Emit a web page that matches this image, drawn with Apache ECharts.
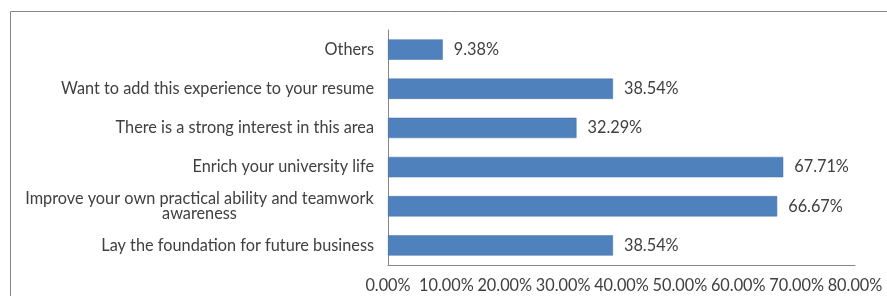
<!DOCTYPE html>
<html>
<head>
<meta charset="utf-8">
<script src="https://cdn.jsdelivr.net/npm/echarts@6/dist/echarts.min.js"></script>
<style>
  html, body { margin: 0; padding: 0; background: #fff; }
  #chart { width: 887px; height: 296px; }
</style>
</head>
<body>
<div id="chart"></div>
<script>
// categories bottom -> top, as on a category y axis
var categories = [
    'Lay the foundation for future business',
    'Improve your own practical ability and teamwork awareness',
    'Enrich your university life',
    'There is a strong interest in this area',
    'Want to add this experience to your resume',
    'Others'
];
var shares = [38.54, 66.67, 67.71, 32.29, 38.54, 9.38];
var xTicks = [0, 10, 20, 30, 40, 50, 60, 70, 80];

var myChart = echarts.init(document.getElementById('chart'));
var font = 'Lato';
var fs = 16.3;

var option = {
    animation: false,
    backgroundColor: '#fff',
    textStyle: { fontFamily: font },
    graphic: [{
        type: 'rect',
        shape: { x: 10.5, y: 11.5, width: 900, height: 400 },
        style: { fill: 'none', stroke: '#868686', lineWidth: 1 },
        silent: true
    }],
    grid: { left: 388, right: 32, top: 30, bottom: 31 },
    xAxis: {
        type: 'value',
        min: xTicks[0],
        max: xTicks[xTicks.length - 1],
        interval: 10,
        splitLine: { show: false },
        axisLine: { show: true, lineStyle: { color: '#868686' } },
        axisTick: { show: false },
        axisLabel: {
            color: '#404040', fontSize: fs, margin: 13,
            formatter: function (v) { return v.toFixed(2) + '%'; }
        }
    },
    yAxis: {
        type: 'category',
        data: categories,
        axisLine: { show: true, lineStyle: { color: '#868686' } },
        axisTick: { show: false },
        axisLabel: {
            color: '#404040', fontSize: fs, margin: 14,
            formatter: function (v) {
                if (v.indexOf('teamwork') > -1) {
                    return '{w|Improve your own practical ability and teamwork}\n{w|awareness}';
                }
                return v;
            },
            rich: {
                w: { width: 349, align: 'center', color: '#404040', fontSize: fs, lineHeight: 15.5, fontFamily: font }
            }
        }
    },
    series: [{
        type: 'bar',
        data: shares,
        barWidth: '52%',
        itemStyle: { color: '#4F81BD', borderColor: '#4472A8', borderWidth: 0.5 },
        label: {
            show: true, position: 'right', distance: 11,
            color: '#404040', fontSize: fs, fontFamily: font,
            formatter: function (p) { return p.value.toFixed(2) + '%'; }
        }
    }]
};

myChart.setOption(option);
</script>
</body>
</html>
